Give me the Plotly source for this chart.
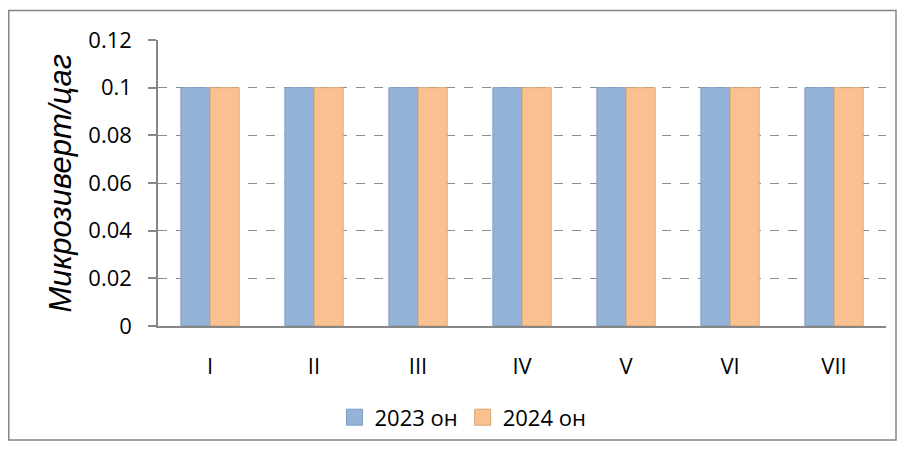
import plotly.graph_objects as go

categories = ["I", "II", "III", "IV", "V", "VI", "VII"]
series_2023 = [0.1, 0.1, 0.1, 0.1, 0.1, 0.1, 0.1]
series_2024 = [0.1, 0.1, 0.1, 0.1, 0.1, 0.1, 0.1]
name_2023 = "2023 он"
name_2024 = "2024 он"
y_title = "Микрозиверт/цаг"
y_ticks = [0, 0.02, 0.04, 0.06, 0.08, 0.1, 0.12]
y_ticktext = ["0", "0.02", "0.04", "0.06", "0.08", "0.1", "0.12"]

# page body has an 8px margin -> figure is drawn 8px in from the window edge
W, H = 889, 441
L, R, T, B = 150, 878, 32, 323
pw, ph = R - L, B - T

def px(x):
    return (x - L) / pw

def py(y):
    return (B - y) / ph

FONT = "Open Sans, Noto Sans, sans-serif"
BLUE, BLUE_EDGE = "#95B3D7", "#7F9DC4"
ORANGE, ORANGE_EDGE = "#FAC090", "#D8A273"

fig = go.Figure()
fig.add_trace(go.Bar(x=categories, y=series_2023, name=name_2023, showlegend=False,
                     legendgroup="a",
                     marker=dict(color=BLUE, line=dict(color=BLUE_EDGE, width=1))))
fig.add_trace(go.Bar(x=categories, y=series_2024, name=name_2024, showlegend=False,
                     legendgroup="b",
                     marker=dict(color=ORANGE, line=dict(color=ORANGE_EDGE, width=1))))
# legend entries with larger square swatches
fig.add_trace(go.Scatter(x=[None], y=[None], mode="markers", name=name_2023, legendgroup="a",
                         marker=dict(symbol="square", size=16, color=BLUE,
                                     line=dict(color=BLUE_EDGE, width=1))))
fig.add_trace(go.Scatter(x=[None], y=[None], mode="markers", name=name_2024, legendgroup="b",
                         marker=dict(symbol="square", size=16, color=ORANGE,
                                     line=dict(color=ORANGE_EDGE, width=1))))

fig.update_layout(
    width=W, height=H,
    margin=dict(l=L, r=W - R, t=T, b=H - B),
    paper_bgcolor="white", plot_bgcolor="white",
    barmode="group", bargap=0.44, bargroupgap=0,
    font=dict(family=FONT, size=22, color="black"),
    showlegend=True,
    legend=dict(orientation="h", x=px(455), xanchor="center", y=py(416), yanchor="middle",
                font=dict(size=22, family=FONT), traceorder="normal",
                itemwidth=30, itemsizing="trace", tracegroupgap=0),
    xaxis=dict(showline=True, linecolor="#868686", linewidth=1.5,
               ticks="outside", ticklen=20, tickcolor="rgba(0,0,0,0)",
               showgrid=False, tickfont=dict(size=22, family=FONT)),
    yaxis=dict(range=[0, 0.12], tickvals=y_ticks, ticktext=y_ticktext,
               showline=True, linecolor="#868686", linewidth=1.5,
               ticks="outside", ticklen=8, tickcolor="#868686", tickwidth=1.5,
               ticklabelstandoff=12,
               showgrid=True, gridcolor="#8C8C8C", griddash="dash", gridwidth=1,
               zeroline=False,
               tickfont=dict(size=22, family=FONT)),
)
fig.add_annotation(text="<i>" + y_title + "</i>", xref="paper", yref="paper",
                   x=px(52), y=py(178), textangle=-90, showarrow=False,
                   xanchor="center", yanchor="middle",
                   font=dict(size=31, family="Liberation Sans, Arial, sans-serif", color="black"))
fig.add_shape(type="rect", xref="paper", yref="paper",
              x0=px(0.75), x1=px(888), y0=py(439), y1=py(2),
              line=dict(color="#868686", width=1.5), fillcolor="rgba(0,0,0,0)", layer="below")
fig.write_html("out.html")
